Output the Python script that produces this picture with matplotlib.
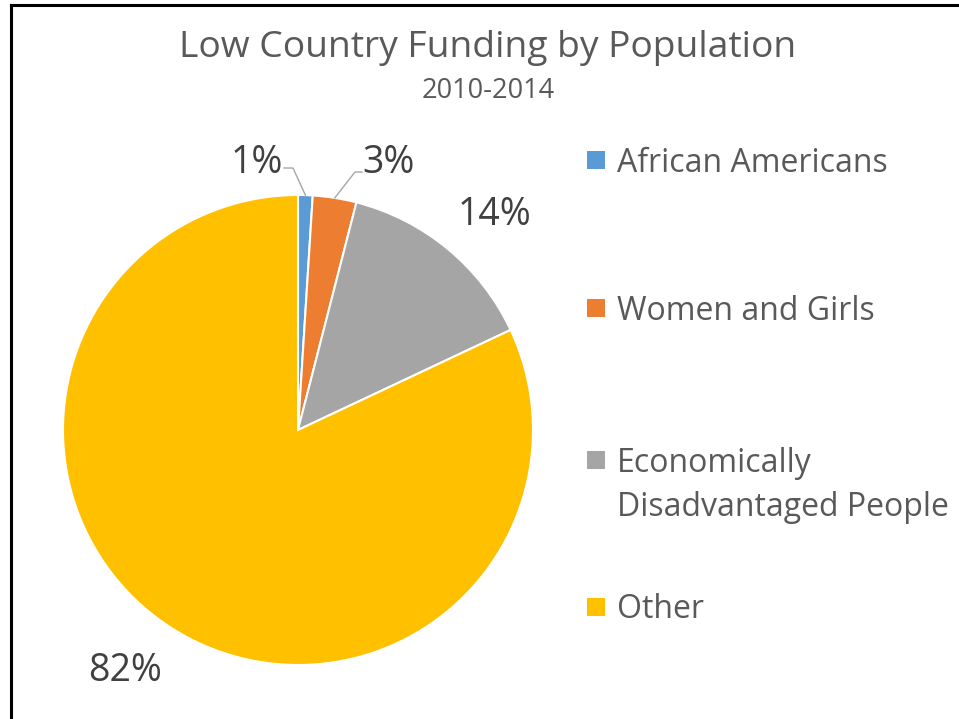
import matplotlib
matplotlib.use("Agg")
import matplotlib.pyplot as plt
import numpy as np

categories = ["African Americans", "Women and Girls", "Economically\nDisadvantaged People", "Other"]
values = [1, 3, 14, 82]
pct_labels = ["1%", "3%", "14%", "82%"]
colors = ["#5B9BD5", "#ED7D31", "#A5A5A5", "#FFC000"]

W, H = 959, 719
fig = plt.figure(figsize=(W / 100, H / 100), dpi=100)
ax = fig.add_axes([0, 0, 1, 1])

font = "Open Sans"
cx, cy, R = 298, H - 430, 235
wedges, _ = ax.pie(values, colors=colors, startangle=90, counterclock=False,
                   center=(cx, cy), radius=R, frame=True,
                   wedgeprops=dict(edgecolor="white", linewidth=1.5))
ax.set_xlim(0, W)
ax.set_ylim(0, H)
ax.set_aspect("equal")
ax.axis("off")

dy = 3  # vertical text adjustment (pixels)

# data labels
label_pos = [(257, 160), (388, 160), (494, 212), (125, 668)]
for lab, (lx, ly) in zip(pct_labels, label_pos):
    ax.text(lx, H - ly - dy, lab, ha="center", va="center", fontsize=27,
            color="#404040", family=font)

# leader lines for small slices
for w, (tx, tx2, ty) in zip(wedges[:2], [(284, 293, 168), (362, 355, 172)]):
    ang = np.deg2rad((w.theta1 + w.theta2) / 2)
    ex, ey = cx + R * np.cos(ang), cy + R * np.sin(ang)
    ax.plot([tx, tx2, ex], [H - ty, H - ty, ey], color="#A6A6A6", lw=1)

fig.text(488 / W, 1 - (45 + dy) / H, "Low Country Funding by Population", ha="center", va="center",
         fontsize=26.8, color="#595959", family=font)
fig.text(488 / W, 1 - (88 + dy) / H, "2010-2014", ha="center", va="center",
         fontsize=19.5, color="#595959", family=font)

# legend
leg_y = [160, 308, 460, 607]
for c, lab, y in zip(colors, categories, leg_y):
    ax.add_patch(plt.Rectangle((587, H - y - 9), 18, 18, facecolor=c, edgecolor="none"))
    lines = lab.split("\n")
    for i, line in enumerate(lines):
        ax.text(617, H - y - dy - 45 * i, line, ha="left", va="center", fontsize=23,
                color="#595959", family=font)

# frame (left and top edges)
ax.plot([11, 11], [0, H - 5], color="black", lw=2.2, solid_capstyle="projecting")
ax.plot([11, W], [H - 5, H - 5], color="black", lw=2.2, solid_capstyle="projecting")

fig.savefig("out.png", dpi=100, facecolor="white")
